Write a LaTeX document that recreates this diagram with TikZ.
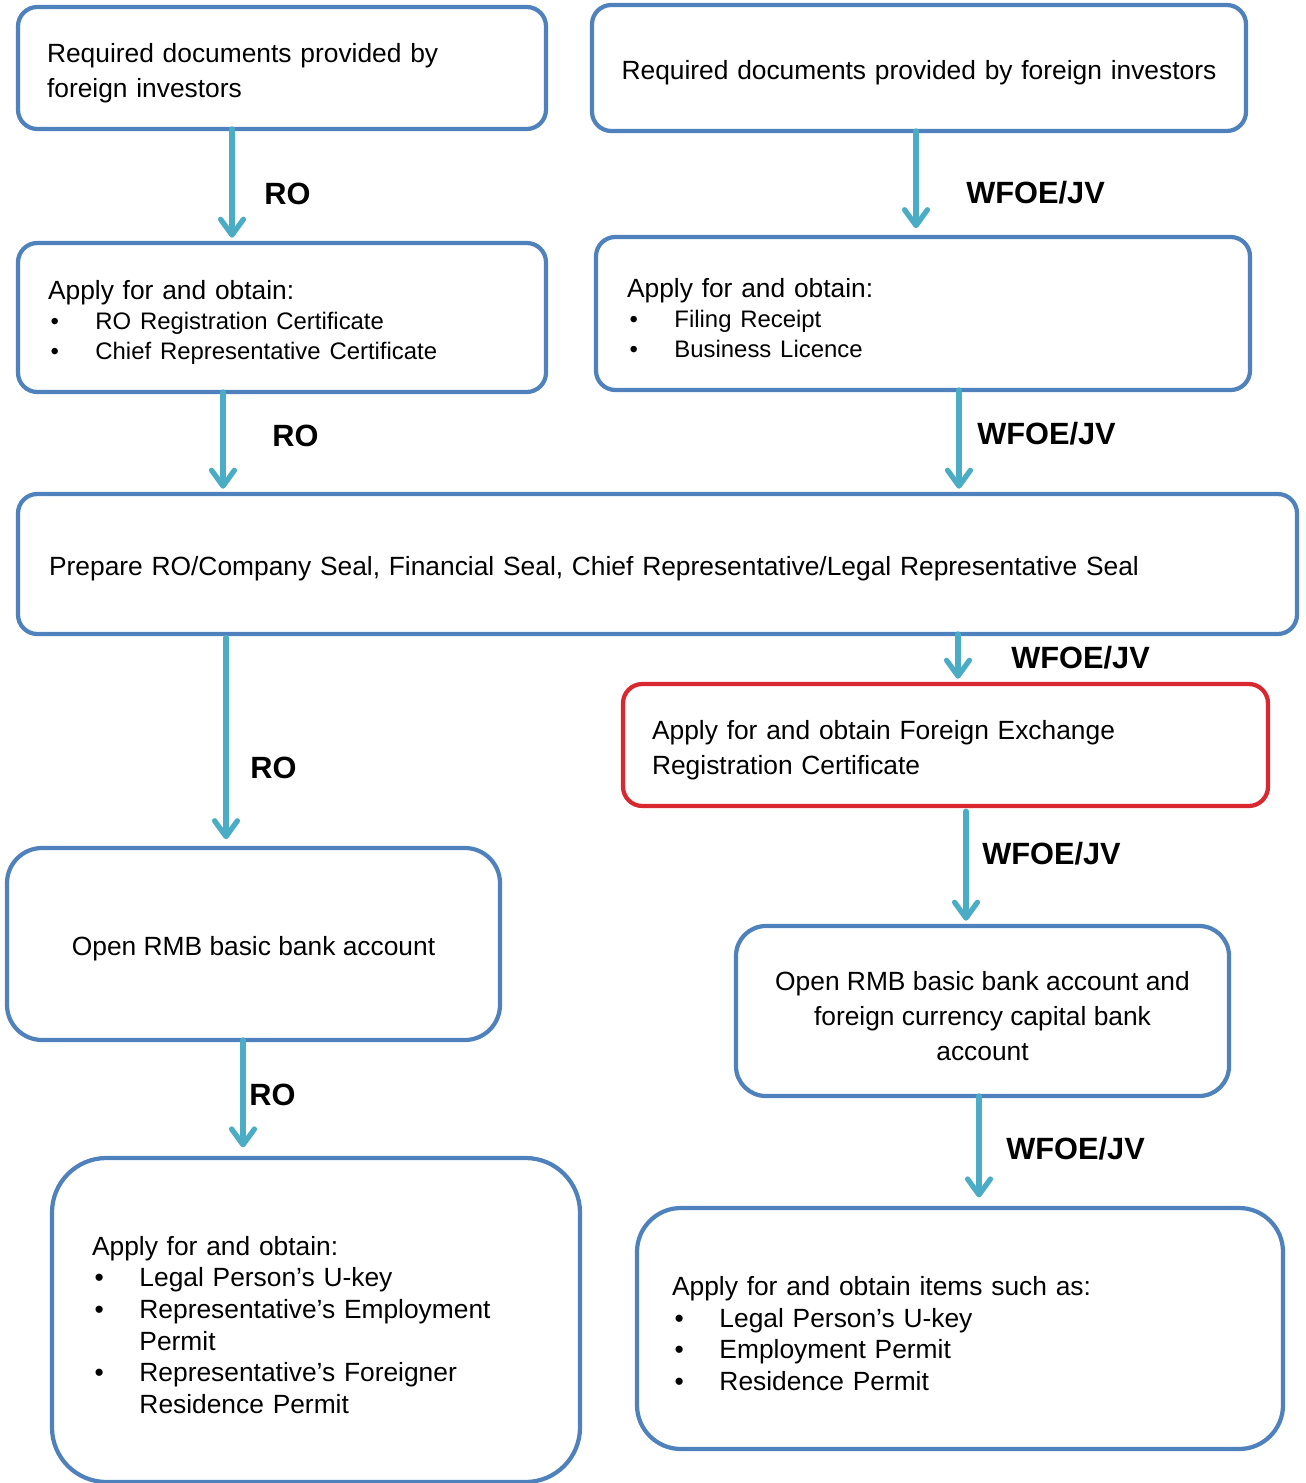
\documentclass[tikz,border=0pt]{standalone}
\usepackage{fontspec}
\setmainfont{Liberation Sans}
\usepackage{tikz}
\usetikzlibrary{arrows.meta,fit}

\definecolor{boxblue}{RGB}{79,129,189}
\definecolor{boxred}{RGB}{218,40,48}
\definecolor{flowcyan}{RGB}{75,172,198}

\newcommand{\bitem}[1]{\par\noindent\hangindent=27pt\hangafter=1\makebox[27pt][l]{\hspace{1.5pt}\textbullet}#1\par}
\newcommand{\itemsz}{\fontsize{13.6}{17}\selectfont}

\tikzset{
  stepbox/.style={draw=boxblue, line width=2.4pt, rounded corners=11pt},
  txt/.style={font=\fontsize{15}{19.8}\selectfont, align=left, inner sep=0pt, yshift=-2.8pt},
  bigtxt/.style={txt, font=\fontsize{15}{18}\selectfont},
  flow/.style={draw=flowcyan, line width=3pt, line cap=round,
    -{Straight Barb[length=9pt,width=13pt,round]}, shorten >=3pt},
  lbl/.style={font=\fontsize{17.5}{20}\selectfont\bfseries, inner sep=0pt, anchor=west}
}

\begin{document}
\begin{tikzpicture}[x=0.02cm, y=-0.02cm, every fit/.style={inner sep=0pt, outer sep=0pt}]
      \fill[white] (0,0) rectangle (1305,1483);
      \useasboundingbox (0,0) rectangle (1305,1483);
      \begin{scope}
        % left column: RO
        \node [stepbox, fit={(18,7) (546,129)},
          label={[txt, text width=9.4cm]center:{Required documents provided by\newline foreign investors}}] (rodocs) {};
        \node [stepbox, fit={(18,243) (546,392)},
          label={[txt, text width=9.36cm]center:{Apply for and obtain:\itemsz\bitem{RO Registration Certificate}\bitem{Chief Representative Certificate}}}] (roreg) {};
        % right column: WFOE/JV
        \node [stepbox, fit={(592,5) (1246,131)},
          label={[txt, text width=11.9cm]center:{Required documents provided by foreign investors}}] (fdocs) {};
        \node [stepbox, fit={(596,237) (1250,390)},
          label={[txt, text width=11.84cm]center:{Apply for and obtain:\itemsz\bitem{Filing Receipt}\bitem{Business Licence}}}] (fdreg) {};
        % shared step
        \node [stepbox, fit={(18,494) (1297,634)},
          label={[txt, text width=24.34cm]center:{Prepare RO/Company Seal, Financial Seal, Chief Representative/Legal Representative Seal}}] (seals) {};
        \node [stepbox, draw=boxred, fit={(623,684) (1268,806)},
          label={[txt, text width=11.74cm]center:{Apply for and obtain Foreign Exchange\newline Registration Certificate}}] (fxreg) {};
        \node [stepbox, rounded corners=20pt, fit={(7,848) (500,1040)},
          label={[txt, align=center]center:{Open RMB basic bank account}}] (robank) {};
        \node [stepbox, rounded corners=17pt, fit={(736,926) (1229,1096)},
          label={[txt, align=center]center:{Open RMB basic bank account and\\foreign currency capital bank\\account}}] (fdbank) {};
        \node [stepbox, rounded corners=31pt, fit={(52,1158) (580,1482)},
          label={[bigtxt, text width=8.96cm]center:{Apply for and obtain:\bitem{Legal Person’s U-key}\bitem{Representative’s Employment\newline Permit}\bitem{Representative’s Foreigner\newline Residence Permit}}}] (roperm) {};
        \node [stepbox, rounded corners=25pt, fit={(637,1208) (1283,1449)},
          label={[bigtxt, text width=11.52cm]center:{Apply for and obtain items such as:\bitem{Legal Person’s U-key}\bitem{Employment Permit}\bitem{Residence Permit}}}] (fdperm) {};
      \end{scope}

      % connectors
      \draw [flow] (rodocs.south -| 232,0) -- (roreg.north -| 232,0);
      \draw [flow, shorten >=5pt] (fdocs.south -| 916,0) -- (fdreg.north -| 916,0);
      \draw [flow] (roreg.south -| 223,0) -- (seals.north -| 223,0);
      \draw [flow] (fdreg.south -| 959,0) -- (seals.north -| 959,0);
      \draw [flow] (seals.south -| 958,0) -- (fxreg.north -| 958,0);
      \draw [flow, shorten <=2pt, shorten >=5pt] (seals.south -| 226,0) -- (robank.north -| 226,0);
      \draw [flow, shorten <=3pt] (fxreg.south -| 966,0) -- (fdbank.north -| 966,0);
      \draw [flow, shorten >=6pt] (robank.south -| 243,0) -- (roperm.north -| 243,0);
      \draw [flow, shorten >=6pt] (fdbank.south -| 979,0) -- (fdperm.north -| 979,0);

      % labels
      \node [lbl] (t1) at (264,194) {RO};
      \node [lbl] (t2) at (966,193) {WFOE/JV};
      \node [lbl] (t3) at (272,436) {RO};
      \node [lbl] (t4) at (977,434) {WFOE/JV};
      \node [lbl] (t5) at (1011,658) {WFOE/JV};
      \node [lbl] (t6) at (250,768) {RO};
      \node [lbl] (t7) at (982,854) {WFOE/JV};
      \node [lbl] (t8) at (249,1095) {RO};
      \node [lbl] (t9) at (1006,1149) {WFOE/JV};
    \end{tikzpicture}
\end{document}
